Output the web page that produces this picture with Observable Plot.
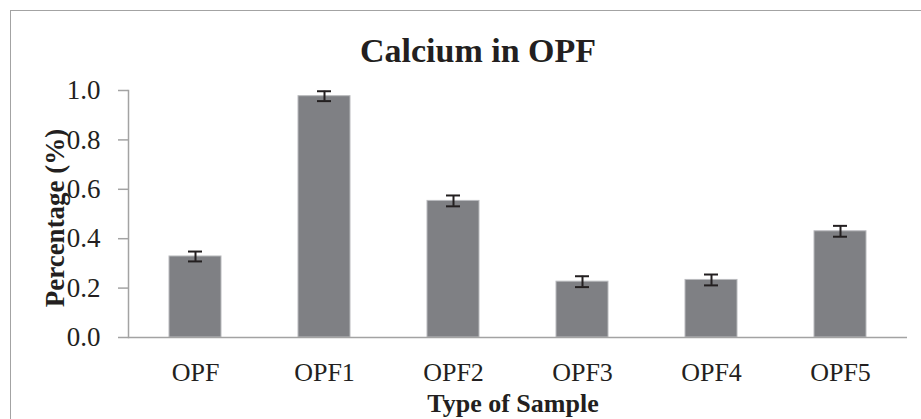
<!DOCTYPE html>
<html>
<head>
<meta charset="utf-8">
<script src="https://cdn.jsdelivr.net/npm/d3@7"></script>
<script src="https://cdn.jsdelivr.net/npm/@observablehq/plot@0.6"></script>
<style>
  html, body { margin: 0; padding: 0; background: #fff; }
  #wrap { position: relative; width: 921px; height: 419px; overflow: hidden; }
  #border { position: absolute; left: 10px; top: 10px; width: 940px; height: 440px;
            border-top: 1.5px solid #a3a3a3; border-left: 1.5px solid #a3a3a3; }
  #chart { position: absolute; left: 0; top: 0; }
  svg { font-family: "Liberation Serif", "Times New Roman", serif; }
</style>
</head>
<body>
<div id="wrap"><div id="border"></div><div id="chart"></div></div>
<script>
const categories = ["OPF", "OPF1", "OPF2", "OPF3", "OPF4", "OPF5"];
const values = [0.328, 0.977, 0.553, 0.226, 0.233, 0.430];
const errors = [0.020, 0.020, 0.022, 0.022, 0.022, 0.022];
const yTicks = [0, 0.2, 0.4, 0.6, 0.8, 1.0];
const chartTitle = "Calcium in OPF";
const xTitle = "Type of Sample";
const yTitle = "Percentage (%)";

const data = categories.map((c, i) => ({cat: c, v: values[i], lo: values[i] - errors[i], hi: values[i] + errors[i]}));
const ink = "#231f20";
const axisGray = "#a3a3a3";

const chart = Plot.plot({
  width: 921,
  height: 419,
  marginTop: 90,
  marginBottom: 82,
  marginLeft: 128,
  marginRight: 14,
  style: {fontFamily: '"Liberation Serif", "Times New Roman", serif', background: "transparent"},
  x: {domain: categories, paddingInner: 0.6, paddingOuter: 0.3, axis: null},
  y: {domain: [0, 1], axis: null},
  marks: [
    Plot.frame({anchor: "left", stroke: axisGray, strokeWidth: 1.5}),
    Plot.axisY({ticks: yTicks, tickSize: 10, tickPadding: 18, tickFormat: d3.format(".1f"),
                stroke: axisGray, strokeWidth: 1.5, fill: ink, fontSize: 27, label: null}),
    Plot.barY(data, {x: "cat", y: "v", fill: "#7f8084", stroke: "#b9babd", strokeWidth: 1}),
    Plot.ruleY([0], {stroke: axisGray, strokeWidth: 1.5}),
    Plot.axisX({tickSize: 0, tickPadding: 25.5, fill: ink, fontSize: 26, label: null}),
    Plot.ruleX(data, {x: "cat", y1: "lo", y2: "hi", stroke: ink, strokeWidth: 2}),
    Plot.tickY(data, {x: "cat", y: "lo", stroke: ink, strokeWidth: 2, insetLeft: 19, insetRight: 19}),
    Plot.tickY(data, {x: "cat", y: "hi", stroke: ink, strokeWidth: 2, insetLeft: 19, insetRight: 19}),
    Plot.text([chartTitle], {frameAnchor: "top", lineAnchor: "bottom", dx: -40, dy: -29,
              fontSize: 34, fontWeight: "bold", fill: ink}),
    Plot.text([xTitle], {frameAnchor: "bottom", lineAnchor: "bottom", dx: -5, dy: 74,
              fontSize: 26, fontWeight: "bold", fill: ink}),
    Plot.text([yTitle], {frameAnchor: "left", textAnchor: "middle", lineAnchor: "bottom", rotate: -90,
              dx: -65, dy: 4, fontSize: 27, fontWeight: "bold", fill: ink})
  ]
});
document.getElementById("chart").appendChild(chart);
</script>
</body>
</html>
